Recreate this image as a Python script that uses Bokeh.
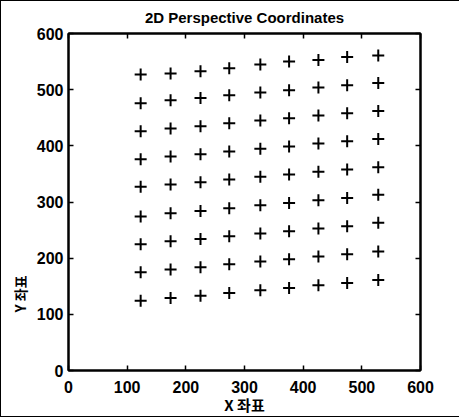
from bokeh.plotting import figure
from bokeh.models import (Range1d, LinearAxis, FixedTicker, ColumnDataSource,
                          CustomLabelingPolicy, Title)
from bokeh.embed import file_html
from bokeh.resources import INLINE

# ---- data ----
title_text = "2D Perspective Coordinates"
x_label = "X 좌표"
y_label = "Y 좌표"
tick_values = [0, 100, 200, 300, 400, 500, 600]

# x position of each of the 9 columns
col_x = [123, 174, 225, 274, 327, 376, 426, 475, 528]
# y values per row (bottom row first), one value per column
row1_y = [124, 129, 133, 138, 143, 147, 152, 156, 161]
row2_y = [175, 180, 184, 189, 194, 198, 203, 207, 212]
row3_y = [225, 230, 234, 239, 244, 248, 253, 257, 263]
row4_y = [274, 280, 284, 289, 294, 298, 303, 307, 313]
row5_y = [327, 331, 335, 340, 345, 349, 354, 358, 362]
row6_y = [376, 381, 385, 390, 395, 399, 404, 408, 412]
row7_y = [426, 431, 435, 440, 445, 449, 454, 458, 462]
row8_y = [476, 481, 485, 490, 495, 499, 504, 508, 512]
row9_y = [527, 529, 533, 538, 545, 550, 553, 558, 561]
rows = [row1_y, row2_y, row3_y, row4_y, row5_y, row6_y, row7_y, row8_y, row9_y]

xs, ys = [], []
for r in rows:
    for cx, cy in zip(col_x, r):
        xs.append(cx)
        ys.append(cy)
src = ColumnDataSource(dict(x=xs, y=ys))

TICK_FONT = "Liberation Sans"
CJK_FONT = "Noto Sans CJK KR"

p = figure(width=459, height=417, output_backend="svg", toolbar_location=None,
           x_range=Range1d(0, 600), y_range=Range1d(0, 600),
           min_border_left=67, min_border_right=40, min_border_top=32,
           min_border_bottom=48, x_axis_location=None, y_axis_location=None)
p.styles = {"border-left": "1px solid black", "border-top": "1px solid black",
            "border-bottom": "1px solid black"}

p.title.text = title_text
p.title.align = "center"
p.title.text_font = TICK_FONT
p.title.text_font_size = "15px"
p.title.text_font_style = "bold"
p.title.text_color = "black"
p.title.standoff = 8

p.background_fill_color = "white"
p.border_fill_color = "white"
p.outline_line_color = "black"
p.outline_line_width = 2
p.xgrid.visible = False
p.ygrid.visible = False

no_labels = CustomLabelingPolicy(code="""
    const all = [...indices]
    for (const i of all) indices.unset(i)
    return indices
""")

def make_axis(show_labels):
    ax = LinearAxis(ticker=FixedTicker(ticks=tick_values))
    ax.major_tick_in = 5
    ax.major_tick_out = 0
    ax.minor_tick_in = 0
    ax.minor_tick_out = 0
    ax.axis_line_color = "black"
    ax.axis_line_width = 2
    ax.major_tick_line_width = 1.5
    ax.major_label_text_font = TICK_FONT
    ax.major_label_text_font_style = "bold"
    ax.major_label_text_color = "black"
    if show_labels:
        ax.major_label_text_font_size = "16px"
    else:
        ax.major_label_text_font_size = "1px"
        ax.major_label_policy = no_labels
        ax.major_label_standoff = 0
    return ax

xb = make_axis(True)
xb.major_label_standoff = 10
xb.axis_label = x_label
xb.axis_label_text_font = CJK_FONT
xb.axis_label_text_font_size = "15px"
xb.axis_label_text_font_style = "bold"
xb.axis_label_text_color = "black"
xb.axis_label_standoff = -2
p.add_layout(xb, "below")

yl = make_axis(True)
yl.major_label_standoff = 5
p.add_layout(yl, "left")

p.add_layout(make_axis(False), "above")
p.add_layout(make_axis(False), "right")

p.scatter("x", "y", source=src, marker="cross", size=12, line_width=2,
          line_color="black")

ytitle = Title(text=y_label, align="left", offset=58, standoff=8,
               text_font=CJK_FONT, text_font_size="14px",
               text_font_style="bold", text_color="black")
p.add_layout(ytitle, "left")

open("out.html", "w").write(file_html(p, INLINE))
